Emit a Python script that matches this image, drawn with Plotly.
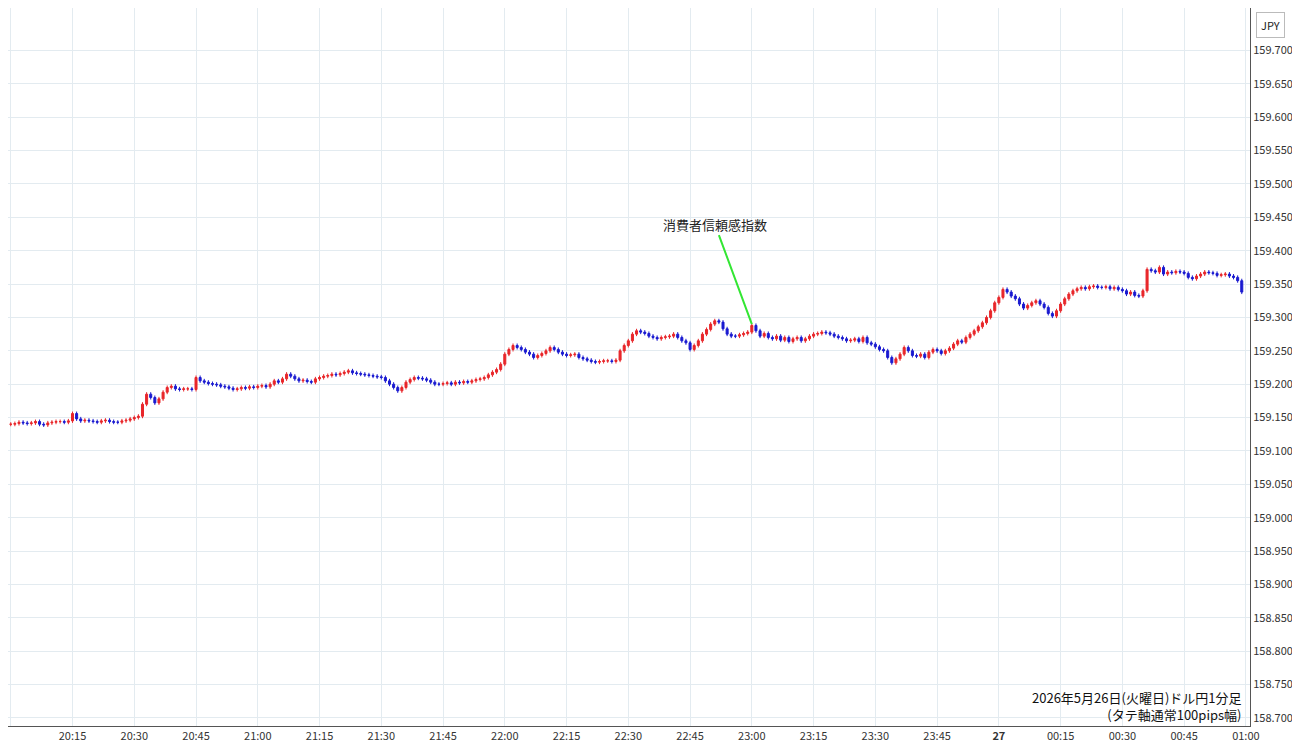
import pandas as pd
import plotly.graph_objects as go

# 1-minute closes (USD/JPY), 20:00 -> 00:59, in 0.001 above 159.000
closes_milli = [
    140,141,143,142,141,142,144,140,139,142,143,144,144,143,145,
    156,148,145,146,145,144,143,145,146,144,143,143,145,146,148,
    150,152,170,185,180,172,178,188,195,197,193,192,193,193,192,
    210,205,203,201,200,199,197,196,194,192,193,195,194,196,195,
    197,198,196,200,205,203,208,215,212,208,205,206,204,203,208,
    210,212,213,215,214,216,218,220,217,216,215,214,213,212,211,
    210,205,200,195,190,195,203,207,210,209,208,206,203,200,200,
    201,202,200,203,202,204,203,205,207,208,210,214,218,222,230,
    245,252,258,255,252,248,245,240,243,246,250,255,252,248,245,
    243,244,245,240,238,236,234,233,234,235,235,234,236,250,258,
    265,275,280,278,276,272,270,268,270,271,272,275,270,265,262,
    252,258,265,275,282,290,295,293,283,275,272,272,274,276,278,
    288,280,272,276,270,268,272,266,270,264,268,270,265,268,272,
    275,276,278,277,275,272,270,268,265,266,268,264,270,262,260,
    256,252,250,240,232,238,245,255,250,243,242,245,240,248,252,
    250,246,250,254,260,265,263,270,275,280,286,292,300,310,322,
    330,342,338,332,328,320,314,318,322,325,320,315,306,302,310,
    320,328,335,340,343,345,343,346,347,345,345,346,343,345,342,
    340,335,338,333,332,340,372,370,368,375,365,368,367,369,368,
    366,360,358,362,365,368,367,366,363,364,365,362,360,355,338,
]
first_open = 159.140
wick = 0.003

times = pd.date_range("2026-05-26 20:00", periods=len(closes_milli), freq="1min")
closes = [159 + c / 1000 for c in closes_milli]
opens = [first_open] + closes[:-1]
highs = [max(o, c) + wick for o, c in zip(opens, closes)]
lows = [min(o, c) - wick for o, c in zip(opens, closes)]

tick_vals = pd.date_range("2026-05-26 20:00", "2026-05-27 01:00", freq="15min")
tick_text = [("<b>27</b>" if t.hour == 0 and t.minute == 0 else t.strftime("%H:%M")) for t in tick_vals]
y_ticks = [round(158.70 + 0.05 * i, 3) for i in range(21)]

fig = go.Figure(go.Candlestick(
    x=times, open=opens, high=highs, low=lows, close=closes,
    increasing=dict(line=dict(color="#e8262a", width=1), fillcolor="#e8262a"),
    decreasing=dict(line=dict(color="#1a1ad0", width=1), fillcolor="#1a1ad0"),
    whiskerwidth=0, showlegend=False,
))

fig.add_annotation(
    x=pd.Timestamp("2026-05-26 23:00"), y=159.290, text="消費者信頼感指数",
    showarrow=True, arrowhead=0, arrowcolor="#33e633", arrowwidth=2,
    ax=-37, ay=-100, font=dict(size=13, color="#222"),
)
fig.add_annotation(
    xref="paper", yref="paper", x=0.995, y=0.0, xanchor="right", yanchor="bottom",
    text="2026年5月26日(火曜日)ドル円1分足<br>(タテ軸通常100pips幅)", showarrow=False,
    align="right", font=dict(size=13, color="#111"),
)
fig.add_annotation(
    xref="paper", yref="paper", x=1.0, y=0.995, xanchor="left", yanchor="top",
    xshift=6, text="JPY", showarrow=False, bgcolor="white",
    bordercolor="#bbb", borderwidth=1, borderpad=4, font=dict(size=11, color="#222"),
)

fig.update_layout(
    width=1292, height=737,
    margin=dict(l=0, r=50, t=0, b=19),
    plot_bgcolor="white", paper_bgcolor="white",
    font=dict(family="Noto Sans CJK JP, Noto Sans, sans-serif", size=11, color="#333"),
    xaxis=dict(
        rangeslider=dict(visible=False), automargin=False,
        range=[pd.Timestamp("2026-05-26 19:59:20"), pd.Timestamp("2026-05-27 01:01")],
        tickvals=tick_vals, ticktext=tick_text, showgrid=True, gridcolor="#e3ebf0",
        showline=True, linecolor="#555", ticks="", zeroline=False,
    ),
    yaxis=dict(
        side="right", range=[158.6879, 159.7636], tickvals=y_ticks, tickformat=".3f",
        showgrid=True, gridcolor="#e3ebf0", showline=True, linecolor="#555",
        ticks="", zeroline=False, automargin=False,
    ),
)

fig.write_html("out.html")
